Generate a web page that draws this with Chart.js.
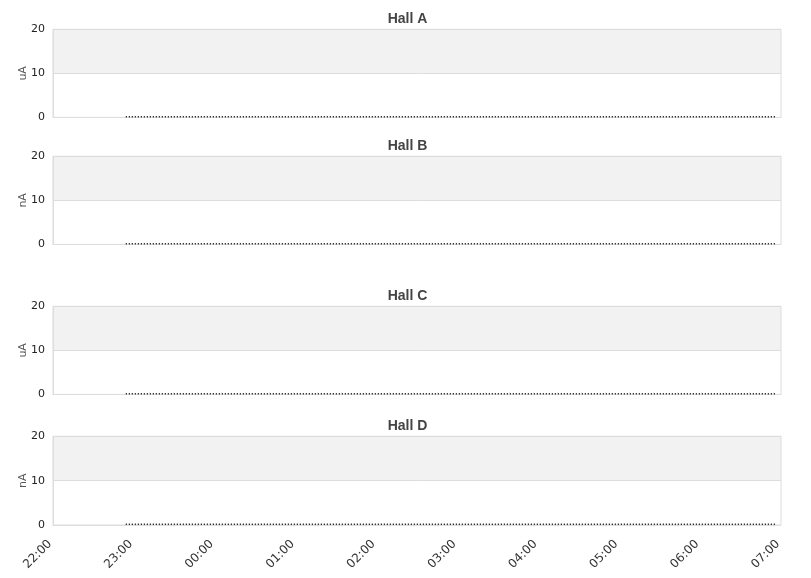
<!DOCTYPE html>
<html>
<head>
<meta charset="utf-8">
<script src="https://cdn.jsdelivr.net/npm/chart.js@4/dist/chart.umd.min.js"></script>
<style>
  body { margin: 0; background: #fff; overflow: hidden; }
  .panel { position: absolute; left: 0; width: 811px; }
</style>
</head>
<body>
<div class="panel" style="top:0;height:132px"><canvas id="hallA"></canvas></div>
<div class="panel" style="top:127px;height:132px"><canvas id="hallB"></canvas></div>
<div class="panel" style="top:277px;height:132px"><canvas id="hallC"></canvas></div>
<div class="panel" style="top:407px;height:171px"><canvas id="hallD"></canvas></div>
<script>
// panel titles and units
const hallNames = ['Hall A', 'Hall B', 'Hall C', 'Hall D'];
const hallUnits = ['uA', 'nA', 'uA', 'nA'];

// y axis ticks and the shaded band
const yTicks = [0, 10, 20];
const bandRange = [10, 20];

// x axis: minutes after 22:00, one label per hour
const timeLabels = ['22:00', '23:00', '00:00', '01:00', '02:00', '03:00', '04:00', '05:00', '06:00', '07:00'];
const startMinute = 54;   // first sample ~22:54
const stepMinutes = 2.25; // sample spacing

// beam current samples (all zero through the night)
const hallA = [
  0,0,0,0,0,0,0,0,0,0,0,0,0,0,0,0,0,0,0,0, 0,0,0,0,0,0,0,0,0,0,0,0,0,0,0,0,0,0,0,0,
  0,0,0,0,0,0,0,0,0,0,0,0,0,0,0,0,0,0,0,0, 0,0,0,0,0,0,0,0,0,0,0,0,0,0,0,0,0,0,0,0,
  0,0,0,0,0,0,0,0,0,0,0,0,0,0,0,0,0,0,0,0, 0,0,0,0,0,0,0,0,0,0,0,0,0,0,0,0,0,0,0,0,
  0,0,0,0,0,0,0,0,0,0,0,0,0,0,0,0,0,0,0,0, 0,0,0,0,0,0,0,0,0,0,0,0,0,0,0,0,0,0,0,0,
  0,0,0,0,0,0,0,0,0,0,0,0,0,0,0,0,0,0,0,0, 0,0,0,0,0,0,0,0,0,0,0,0,0,0,0,0,0,0,0,0,
  0,0,0,0,0,0,0,0,0,0,0,0,0,0,0
];
const hallB = [
  0,0,0,0,0,0,0,0,0,0,0,0,0,0,0,0,0,0,0,0, 0,0,0,0,0,0,0,0,0,0,0,0,0,0,0,0,0,0,0,0,
  0,0,0,0,0,0,0,0,0,0,0,0,0,0,0,0,0,0,0,0, 0,0,0,0,0,0,0,0,0,0,0,0,0,0,0,0,0,0,0,0,
  0,0,0,0,0,0,0,0,0,0,0,0,0,0,0,0,0,0,0,0, 0,0,0,0,0,0,0,0,0,0,0,0,0,0,0,0,0,0,0,0,
  0,0,0,0,0,0,0,0,0,0,0,0,0,0,0,0,0,0,0,0, 0,0,0,0,0,0,0,0,0,0,0,0,0,0,0,0,0,0,0,0,
  0,0,0,0,0,0,0,0,0,0,0,0,0,0,0,0,0,0,0,0, 0,0,0,0,0,0,0,0,0,0,0,0,0,0,0,0,0,0,0,0,
  0,0,0,0,0,0,0,0,0,0,0,0,0,0,0
];
const hallC = [
  0,0,0,0,0,0,0,0,0,0,0,0,0,0,0,0,0,0,0,0, 0,0,0,0,0,0,0,0,0,0,0,0,0,0,0,0,0,0,0,0,
  0,0,0,0,0,0,0,0,0,0,0,0,0,0,0,0,0,0,0,0, 0,0,0,0,0,0,0,0,0,0,0,0,0,0,0,0,0,0,0,0,
  0,0,0,0,0,0,0,0,0,0,0,0,0,0,0,0,0,0,0,0, 0,0,0,0,0,0,0,0,0,0,0,0,0,0,0,0,0,0,0,0,
  0,0,0,0,0,0,0,0,0,0,0,0,0,0,0,0,0,0,0,0, 0,0,0,0,0,0,0,0,0,0,0,0,0,0,0,0,0,0,0,0,
  0,0,0,0,0,0,0,0,0,0,0,0,0,0,0,0,0,0,0,0, 0,0,0,0,0,0,0,0,0,0,0,0,0,0,0,0,0,0,0,0,
  0,0,0,0,0,0,0,0,0,0,0,0,0,0,0
];
const hallD = [
  0,0,0,0,0,0,0,0,0,0,0,0,0,0,0,0,0,0,0,0, 0,0,0,0,0,0,0,0,0,0,0,0,0,0,0,0,0,0,0,0,
  0,0,0,0,0,0,0,0,0,0,0,0,0,0,0,0,0,0,0,0, 0,0,0,0,0,0,0,0,0,0,0,0,0,0,0,0,0,0,0,0,
  0,0,0,0,0,0,0,0,0,0,0,0,0,0,0,0,0,0,0,0, 0,0,0,0,0,0,0,0,0,0,0,0,0,0,0,0,0,0,0,0,
  0,0,0,0,0,0,0,0,0,0,0,0,0,0,0,0,0,0,0,0, 0,0,0,0,0,0,0,0,0,0,0,0,0,0,0,0,0,0,0,0,
  0,0,0,0,0,0,0,0,0,0,0,0,0,0,0,0,0,0,0,0, 0,0,0,0,0,0,0,0,0,0,0,0,0,0,0,0,0,0,0,0,
  0,0,0,0,0,0,0,0,0,0,0,0,0,0,0
];
const hallValues = [hallA, hallB, hallC, hallD];
const canvasIds = ['hallA', 'hallB', 'hallC', 'hallD'];

const gridColor = '#dddddd';

// grey band between 10 and 20, plus a box round the plot area
const bandPlugin = {
  id: 'band',
  beforeDraw(chart) {
    const { ctx, chartArea, scales } = chart;
    const top = scales.y.getPixelForValue(bandRange[1]);
    const bottom = scales.y.getPixelForValue(bandRange[0]);
    ctx.save();
    ctx.fillStyle = '#f2f2f2';
    ctx.fillRect(chartArea.left, top, chartArea.right - chartArea.left, bottom - top);
    ctx.restore();
  },
  beforeDatasetsDraw(chart) {
    const { ctx, chartArea } = chart;
    ctx.save();
    ctx.strokeStyle = gridColor;
    ctx.lineWidth = 1;
    ctx.strokeRect(chartArea.left, chartArea.top, chartArea.right - chartArea.left, chartArea.bottom - chartArea.top);
    ctx.restore();
  }
};

Chart.defaults.font.family = 'DejaVu Sans';
Chart.defaults.font.size = 11;
Chart.defaults.color = '#333';

hallNames.forEach((name, idx) => {
  const isLast = idx === hallNames.length - 1;
  const points = hallValues[idx].map((v, i) => ({ x: startMinute + i * stepMinutes, y: v }));

  new Chart(document.getElementById(canvasIds[idx]), {
    type: 'line',
    data: {
      datasets: [{
        data: points,
        borderColor: '#000',
        borderWidth: 3,
        borderDash: [1, 2],
        pointRadius: 0,
        tension: 0
      }]
    },
    options: {
      responsive: true,
      maintainAspectRatio: false,
      animation: false,
      layout: { padding: { left: 4, right: 0, top: 0, bottom: isLast ? 7 : 13 } },
      plugins: {
        legend: { display: false },
        tooltip: { enabled: false },
        title: {
          display: true,
          text: name,
          color: '#444',
          font: { family: 'Liberation Sans', size: 14, weight: 'bold' },
          padding: { top: 11, bottom: 1.5 }
        }
      },
      scales: {
        x: {
          type: 'linear',
          display: isLast,
          min: 0,
          max: (timeLabels.length - 1) * 60,
          grid: { display: false, drawTicks: false },
          border: { display: false },
          afterFit: (scale) => { if (isLast) scale.height = 46; },
          ticks: {
            stepSize: 60,
            autoSkip: false,
            minRotation: 45,
            maxRotation: 45,
            padding: 12,
            labelOffset: -3,
            color: '#333',
            font: { size: 12 },
            callback: (v) => timeLabels[v / 60]
          }
        },
        y: {
          min: yTicks[0],
          max: yTicks[yTicks.length - 1],
          afterFit: (scale) => { scale.width = 49; },
          afterBuildTicks: (scale) => { scale.ticks = yTicks.map(v => ({ value: v })); },
          grid: { color: gridColor, drawTicks: false },
          border: { color: gridColor },
          ticks: { padding: 8, color: '#222' },
          title: {
            display: true,
            text: hallUnits[idx],
            color: '#555',
            font: { size: 11 },
            padding: { top: 13, bottom: 0 }
          }
        },
        // empty right-hand axis, only to keep the plot 30px from the edge
        yRight: {
          position: 'right',
          display: true,
          afterFit: (scale) => { scale.width = 30; },
          grid: { display: false, drawTicks: false },
          border: { display: false },
          ticks: { display: false }
        }
      }
    },
    plugins: [bandPlugin]
  });
});
</script>
</body>
</html>
